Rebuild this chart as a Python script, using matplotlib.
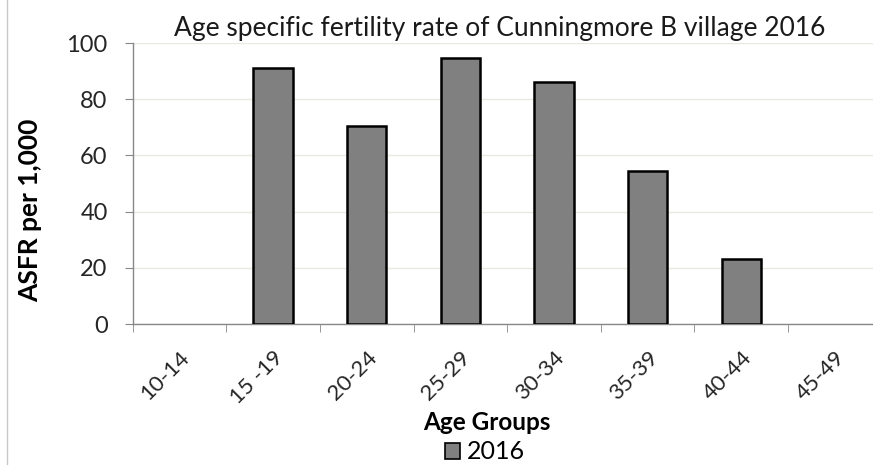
import matplotlib
matplotlib.use("Agg")
import matplotlib.pyplot as plt
from matplotlib.lines import Line2D
from matplotlib.patches import Patch
from matplotlib.transforms import ScaledTranslation

categories = ["10-14", "15 -19", "20-24", "25-29", "30-34", "35-39", "40-44", "45-49"]
values_2016 = [0, 91, 70.3, 94.5, 86.3, 54.5, 23, 0]
yticks = [0, 20, 40, 60, 80, 100]

plt.rcParams['font.family'] = ['Lato', 'DejaVu Sans']

fig = plt.figure(figsize=(8.73, 4.65), dpi=100)
ax = fig.add_axes([0.152, 0.303, 0.858, 0.6045])

x = list(range(len(categories)))
edges = ["black" if v > 0 else "none" for v in values_2016]
ax.bar(x, values_2016, width=0.42, color="#808080", edgecolor=edges, linewidth=1.8, zorder=3, label="2016")

ax.set_xlim(-0.5, len(categories) - 0.5)
ax.set_ylim(0, 100)
ax.set_yticks(yticks)
ax.set_yticklabels([str(t) for t in yticks], fontsize=17, color="#262626")
ax.yaxis.grid(True, color="#e9e9df", linewidth=1, zorder=0)
ax.set_axisbelow(True)

ax.set_xticks(x)
ax.set_xticklabels(categories, rotation=45, ha="right", rotation_mode="anchor", fontsize=16, color="#262626")
offset = ScaledTranslation(-2 / 100, 0, fig.dpi_scale_trans)
for lab in ax.get_xticklabels():
    lab.set_transform(lab.get_transform() + offset)
ax.set_xticks([i - 0.5 for i in range(len(categories) + 1)], minor=True)
ax.tick_params(axis="x", which="major", length=0, pad=17)
ax.tick_params(axis="x", which="minor", length=6, color="#888888", direction="out")
ax.tick_params(axis="y", length=6, color="#888888", direction="out", pad=12)

for s in ["top", "right"]:
    ax.spines[s].set_visible(False)
for s in ["left", "bottom"]:
    ax.spines[s].set_color("#888888")
    ax.spines[s].set_linewidth(1)

ax.set_title("Age specific fertility rate of Cunningmore B village 2016", fontsize=19, color="#1a1a1a", pad=5, x=0.49)
ax.set_ylabel("ASFR per 1,000", fontsize=19, fontweight="bold")
ax.yaxis.set_label_coords(-0.1205, 0.405)
ax.set_xlabel("Age Groups", fontsize=17.5, fontweight="bold")
ax.xaxis.set_label_coords(0.4726, -0.31)

handles = [Patch(facecolor="#808080", edgecolor="black", linewidth=1.2, label="2016")]
fig.legend(handles=handles, loc="center", bbox_to_anchor=(0.5556, 0.028), frameon=False,
           fontsize=18, handlelength=0.6, handleheight=0.6, handletextpad=0.25, borderpad=0)

fig.add_artist(Line2D([0.0075, 0.0075], [0, 1], transform=fig.transFigure, color="#c8c8c8", linewidth=1))

fig.savefig("out.png", dpi=100)
